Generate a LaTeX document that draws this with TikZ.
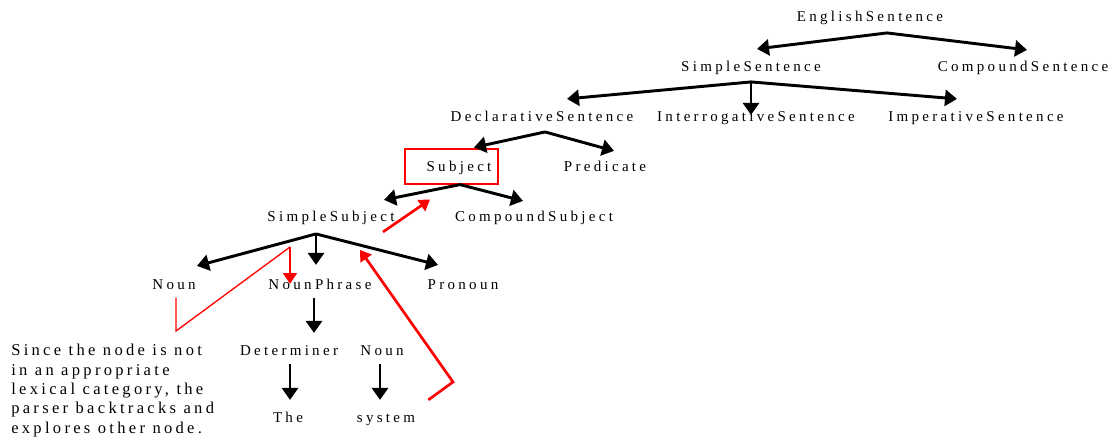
\documentclass[tikz,border=0pt]{standalone}
\usepackage{fontspec}
\setmainfont{Liberation Serif}[LetterSpace=22]
\newfontfamily\notefont{Liberation Serif}[LetterSpace=20]
\usetikzlibrary{arrows.meta,calc}
\begin{document}
\begin{tikzpicture}[x=0.75pt,y=-0.75pt,
  lbl/.style={font=\fontsize{11.25}{14}\selectfont, inner sep=0pt, anchor=base, text height=0.7em, text depth=0.2em},
  para/.style={font=\notefont\fontsize{12.4}{14.5}\selectfont, inner sep=0pt, anchor=north west, align=left},
  arr/.style={line width=2.2pt, -{Triangle[length=9pt,width=12pt]}},
  rarr/.style={red, line width=2pt, -{Triangle[length=8pt,width=10pt]}},
  rthin/.style={red, line width=1pt},
  redbox/.style={draw=red, line width=0.9pt, minimum width=69.75pt, minimum height=26.25pt, inner sep=0pt}]
\useasboundingbox (0,0) rectangle (1119,438);
% nodes
\node[lbl] (ES) at (870,22) {EnglishSentence};
\node[lbl] (SS) at (751,72) {SimpleSentence};
\node[lbl] (CS) at (1023,72) {CompoundSentence};
\node[lbl] (DS) at (542,122) {DeclarativeSentence};
\node[lbl] (IS) at (756,122) {InterrogativeSentence};
\node[lbl] (IMS) at (976,122) {ImperativeSentence};
\node[redbox] (SubjBox) at (451.5,166.5) {};
\node[lbl] (Subj) at (459,172) {Subject};
\node[lbl] (Pred) at (605,172) {Predicate};
\node[lbl] (SSub) at (331,222) {SimpleSubject};
\node[lbl] (CSub) at (534,222) {CompoundSubject};
\node[lbl] (Noun) at (174,289) {Noun};
\node[lbl] (NP) at (320,289) {NounPhrase};
\node[lbl] (Pron) at (463,289) {Pronoun};
\node[lbl] (Det) at (289,355) {Determiner};
\node[lbl] (Noun2) at (382,355) {Noun};
\node[lbl] (The) at (288,422) {The};
\node[lbl] (Sys) at (386,422) {system};
\node[para] (Note) at (11,344) {Since the node is not\\in an appropriate\\lexical category, the\\parser backtracks and\\explores other node.};
% black tree arrows
\coordinate (ESa) at ([shift={(17,8)}]ES.south);
\draw[arr] (ESa) -- ([shift={(6,-13.5)}]SS.north);
\draw[arr] (ESa) -- ([shift={(4,-12.5)}]CS.north);
\coordinate (SSa) at ([shift={(0,7)}]SS.south);
\draw[arr] (SSa) -- ([shift={(25,-13.5)}]DS.north);
\draw[arr] (SSa) -- ([shift={(-5,2.5)}]IS.north);
\draw[arr] (SSa) -- ([shift={(-19,-13.5)}]IMS.north);
\coordinate (DSa) at ([shift={(3,7)}]DS.south);
\draw[arr] (DSa) -- ([shift={(22.5,-1)}]SubjBox.north);
\draw[arr] (DSa) -- ([shift={(9,-11.5)}]Pred.north);
\coordinate (Suba) at ([shift={(8.5,0)}]SubjBox.south);
\draw[arr] (Suba) -- ([shift={(53,-12.5)}]SSub.north);
\draw[arr] (Suba) -- ([shift={(-11,-11.5)}]CSub.north);
\coordinate (SSuba) at ([shift={(-15,9)}]SSub.south);
\draw[arr] (SSuba) -- ([shift={(23,-13.5)}]Noun.north);
\draw[arr] (SSuba) -- ([shift={(-4,-14.5)}]NP.north);
\draw[arr] (SSuba) -- ([shift={(-25,-14.5)}]Pron.north);
\draw[arr] ([shift={(-6,6)}]NP.south) -- ([shift={(25,-12.5)}]Det.north);
\draw[arr] ([shift={(1,6)}]Det.south) -- ([shift={(2,-12.5)}]The.north);
\draw[arr] ([shift={(-2,6)}]Noun2.south) -- ([shift={(-6,-12.5)}]Sys.north);
% red parser trace
\draw[rarr] ([shift={(52,7)}]SSub.south) -- ([shift={(-21.5,15)}]SubjBox.south);
\coordinate (bt) at (290,247);
\draw[rthin] ([shift={(2,6)}]Noun.south) -- (176,331) -- (bt);
\draw[rarr] (bt) -- ([shift={(-30,4.5)}]NP.north);
\draw[rarr] ([shift={(13,-12.5)}]Sys.north east) -- (453,382) -- ([shift={(29,25)}]SSub.south);
\end{tikzpicture}
\end{document}
